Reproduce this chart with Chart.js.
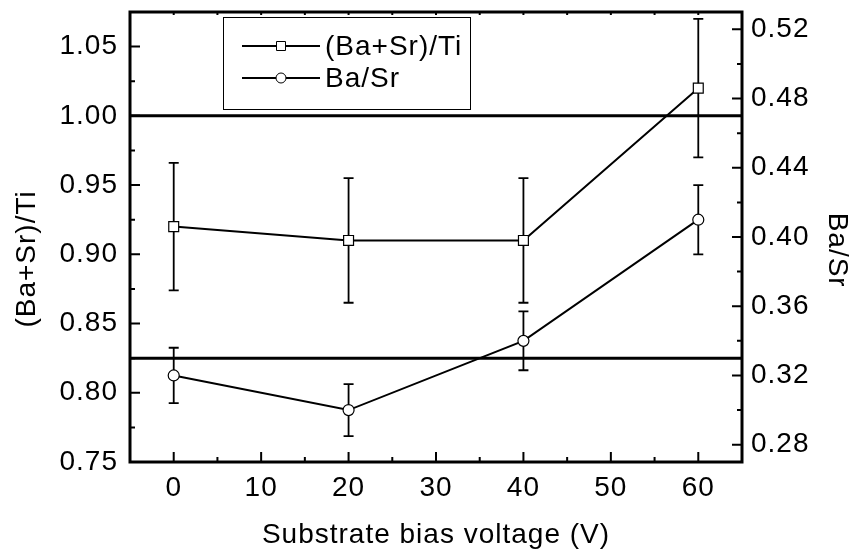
<!DOCTYPE html>
<html>
<head>
<meta charset="utf-8">
<script src="https://cdn.jsdelivr.net/npm/chart.js@4/dist/chart.umd.min.js"></script>
<style>
  html, body { margin: 0; padding: 0; background: #fff; }
</style>
</head>
<body>
<canvas id="bias_chart" width="854" height="552"></canvas>
<script>
// Substrate bias voltage (V) vs composition ratios
const bias_voltage = [0, 20, 40, 60]
const ba_sr_ti = [0.92, 0.91, 0.91, 1.02]
const ba_sr_ti_err = [0.046, 0.045, 0.045, 0.05]
const ba_sr = [0.32, 0.30, 0.34, 0.41]
const ba_sr_err = [0.016, 0.015, 0.017, 0.02]

// tick labels
const x_ticks = [0, 10, 20, 30, 40, 50, 60]
const left_ticks = [0.75, 0.80, 0.85, 0.90, 0.95, 1.00, 1.05]
const right_ticks = [0.28, 0.32, 0.36, 0.40, 0.44, 0.48, 0.52]

// horizontal reference lines (left axis / right axis)
const ref_ba_sr_ti = 1.00
const ref_ba_sr = 0.33

const font_family = "'Liberation Sans', Arial, sans-serif"
const font_size = 28

function to_points(xs, ys) {
  return xs.map((x, i) => ({ x: x, y: ys[i] }))
}

// the original lettering is a bit wider than Arial
const spacing_plugin = {
  id: 'spacing_plugin',
  beforeUpdate(chart) { chart.ctx.letterSpacing = '1px' },
  beforeDraw(chart) { chart.ctx.letterSpacing = '1px' }
}

// error bars + reference lines under the markers, frame/ticks/legend on top
const frame_plugin = {
  id: 'frame_plugin',
  beforeDatasetsDraw(chart) {
    const { ctx, chartArea: a, scales } = chart
    ctx.save()
    ctx.strokeStyle = '#000'

    // reference lines
    ctx.lineWidth = 3
    const y_ref_1 = scales.y.getPixelForValue(ref_ba_sr_ti)
    const y_ref_2 = scales.y1.getPixelForValue(ref_ba_sr)
    ctx.beginPath()
    ctx.moveTo(a.left, y_ref_1); ctx.lineTo(a.right, y_ref_1)
    ctx.moveTo(a.left, y_ref_2); ctx.lineTo(a.right, y_ref_2)
    ctx.stroke()

    // error bars
    ctx.lineWidth = 1.8
    const err_sets = [
      { scale: scales.y, vals: ba_sr_ti, errs: ba_sr_ti_err },
      { scale: scales.y1, vals: ba_sr, errs: ba_sr_err }
    ]
    err_sets.forEach(set => {
      bias_voltage.forEach((v, i) => {
        const x = scales.x.getPixelForValue(v)
        const y_hi = set.scale.getPixelForValue(set.vals[i] + set.errs[i])
        const y_lo = set.scale.getPixelForValue(set.vals[i] - set.errs[i])
        ctx.beginPath()
        ctx.moveTo(x, y_hi); ctx.lineTo(x, y_lo)
        ctx.moveTo(x - 5, y_hi); ctx.lineTo(x + 5, y_hi)
        ctx.moveTo(x - 5, y_lo); ctx.lineTo(x + 5, y_lo)
        ctx.stroke()
      })
    })
    ctx.restore()
  },
  afterDraw(chart) {
    const { ctx, chartArea: a, scales } = chart
    ctx.save()
    ctx.strokeStyle = '#000'

    // inward tick marks (major + minor at midpoints)
    ctx.lineWidth = 2
    const tick_values = scale => {
      const major = scale.ticks.map(t => t.value)
      const minor = []
      const step = major[1] - major[0]
      for (let i = -1; i < major.length; i++) {
        const m = (i < 0 ? major[0] - step : major[i]) + step / 2
        if (m > scale.min + 1e-9 && m < scale.max - 1e-9) minor.push(m)
      }
      return { major, minor }
    }

    const xt = tick_values(scales.x)
    ctx.beginPath()
    xt.major.forEach(v => {
      const x = scales.x.getPixelForValue(v)
      ctx.moveTo(x, a.bottom); ctx.lineTo(x, a.bottom - 10)
      ctx.moveTo(x, a.top); ctx.lineTo(x, a.top + 3)
    })
    xt.minor.forEach(v => {
      const x = scales.x.getPixelForValue(v)
      ctx.moveTo(x, a.bottom); ctx.lineTo(x, a.bottom - 5)
      ctx.moveTo(x, a.top); ctx.lineTo(x, a.top + 3)
    })

    const yl = tick_values(scales.y)
    yl.major.forEach(v => {
      const y = scales.y.getPixelForValue(v)
      ctx.moveTo(a.left, y); ctx.lineTo(a.left + 10, y)
    })
    yl.minor.forEach(v => {
      const y = scales.y.getPixelForValue(v)
      ctx.moveTo(a.left, y); ctx.lineTo(a.left + 5, y)
    })

    const yr = tick_values(scales.y1)
    yr.major.forEach(v => {
      const y = scales.y1.getPixelForValue(v)
      ctx.moveTo(a.right, y); ctx.lineTo(a.right - 10, y)
    })
    yr.minor.forEach(v => {
      const y = scales.y1.getPixelForValue(v)
      ctx.moveTo(a.right, y); ctx.lineTo(a.right - 5, y)
    })
    ctx.stroke()

    // frame
    ctx.lineWidth = 3
    ctx.strokeRect(a.left, a.top, a.right - a.left, a.bottom - a.top)

    // legend
    ctx.lineWidth = 1
    ctx.strokeRect(223.5, 17.5, 247, 92)
    ctx.font = font_size + 'px ' + font_family
    ctx.textBaseline = 'middle'
    ctx.textAlign = 'left'
    const rows = [46, 78]
    chart.data.datasets.forEach((ds, i) => {
      const y = rows[i]
      ctx.lineWidth = 2
      ctx.beginPath()
      ctx.moveTo(242, y); ctx.lineTo(320, y)
      ctx.stroke()
      ctx.lineWidth = 1
      ctx.fillStyle = '#fff'
      ctx.beginPath()
      if (ds.pointStyle === 'rect') {
        ctx.rect(276.5, y - 4.5, 9, 9)
      } else {
        ctx.arc(281, y, 5, 0, Math.PI * 2)
      }
      ctx.fill()
      ctx.stroke()
      ctx.fillStyle = '#000'
      ctx.fillText(ds.label, 325, y + 1)
    })
    ctx.restore()
  }
}

const tick_font = { family: font_family, size: font_size }

const ctx = document.getElementById('bias_chart').getContext('2d')

const bias_chart = new Chart(ctx, {
  type: 'line',
  data: {
    datasets: [
      {
        label: '(Ba+Sr)/Ti',
        data: to_points(bias_voltage, ba_sr_ti),
        yAxisID: 'y',
        borderColor: '#000',
        borderWidth: 2,
        pointStyle: 'rect',
        pointRadius: 7,
        pointBackgroundColor: '#fff',
        pointBorderColor: '#000',
        pointBorderWidth: 1.2,
        tension: 0
      },
      {
        label: 'Ba/Sr',
        data: to_points(bias_voltage, ba_sr),
        yAxisID: 'y1',
        borderColor: '#000',
        borderWidth: 2,
        pointStyle: 'circle',
        pointRadius: 5.5,
        pointBackgroundColor: '#fff',
        pointBorderColor: '#000',
        pointBorderWidth: 1.2,
        tension: 0
      }
    ]
  },
  options: {
    responsive: false,
    animation: false,
    devicePixelRatio: 1,
    layout: { padding: { top: 12, left: 0, right: 0, bottom: 0 } },
    plugins: {
      legend: { display: false },
      tooltip: { enabled: false }
    },
    scales: {
      x: {
        type: 'linear',
        position: 'bottom',
        min: -5,
        max: 65,
        afterBuildTicks: s => { s.ticks = x_ticks.map(v => ({ value: v })) },
        ticks: { padding: 9, color: '#000', font: tick_font, callback: v => String(v) },
        grid: { display: false, drawTicks: false },
        border: { display: false },
        title: {
          display: true,
          text: 'Substrate bias voltage (V)',
          color: '#000',
          font: tick_font,
          padding: { top: 0, bottom: 0 }
        },
        afterFit: s => { s.height = 90; s.paddingLeft = 0; s.paddingRight = 0 }
      },
      y: {
        type: 'linear',
        position: 'left',
        min: 0.75,
        max: 1.075,
        afterBuildTicks: s => { s.ticks = left_ticks.map(v => ({ value: v })) },
        ticks: { padding: 12, color: '#000', font: tick_font, callback: v => v.toFixed(2) },
        grid: { display: false, drawTicks: false },
        border: { display: false },
        title: {
          display: true,
          text: '(Ba+Sr)/Ti     ',
          color: '#000',
          font: tick_font,
          padding: { top: 10, bottom: 0 }
        },
        afterFit: s => { s.width = 130; s.paddingTop = 0; s.paddingBottom = 0 }
      },
      y1: {
        type: 'linear',
        position: 'right',
        min: 0.27,
        max: 0.53,
        afterBuildTicks: s => { s.ticks = right_ticks.map(v => ({ value: v })) },
        ticks: { padding: 9, color: '#000', font: tick_font, callback: v => v.toFixed(2) },
        grid: { display: false, drawTicks: false },
        border: { display: false },
        title: {
          display: true,
          text: '   Ba/Sr',
          color: '#000',
          font: tick_font,
          padding: { top: 0, bottom: 0 }
        },
        afterFit: s => { s.width = 112; s.paddingTop = 0; s.paddingBottom = 0 }
      }
    }
  },
  plugins: [spacing_plugin, frame_plugin]
})
</script>
</body>
</html>
